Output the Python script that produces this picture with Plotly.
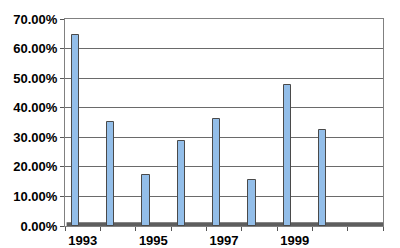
import plotly.graph_objects as go

years = [1993, 1994, 1995, 1996, 1997, 1998, 1999, 2000]
values = [0.646, 0.352, 0.174, 0.289, 0.362, 0.157, 0.477, 0.323]
tick_years = [1993, 1995, 1997, 1999]
tick_labels = ["1993", "1995", "1997", "1999"]
y_ticks = [0, 0.1, 0.2, 0.3, 0.4, 0.5, 0.6, 0.7]

fig = go.Figure()
fig.add_trace(go.Bar(
    x=years, y=values,
    width=0.21, offset=-0.31,
    marker=dict(color="#93bee9", line=dict(color="#4a4a4a", width=1)),
))

fig.add_shape(type="rect", xref="paper", yref="paper", x0=0.005, x1=1, y0=0, y1=0.018,
              fillcolor="#5e5e5e", line=dict(width=0), layer="below")

fig.update_layout(
    width=400, height=248,
    margin=dict(l=65, r=17, t=19, b=22),
    paper_bgcolor="white", plot_bgcolor="white",
    showlegend=False,
    font=dict(family="Liberation Sans, Arial, sans-serif", size=13, color="black"),
    bargap=0,
)
fig.update_xaxes(
    range=[1992.5, 2001.5], automargin=False,
    tickmode="array", tickvals=tick_years, ticktext=tick_labels,
    ticks="", showgrid=False, ticklabelstandoff=2,
    tickfont=dict(size=13, family="Liberation Sans, Arial, sans-serif", weight="bold"),
    showline=True, linecolor="#808080", linewidth=1, mirror=True,
    minor=dict(tickvals=[1992.5 + i for i in range(10)], ticks="outside", ticklen=4,
               tickcolor="#555555", showgrid=False),
)
fig.update_yaxes(
    range=[0, 0.7], automargin=False,
    tickmode="array", tickvals=y_ticks, tickformat=".2%",
    ticks="outside", ticklen=4, tickcolor="#555555",
    showgrid=True, gridcolor="#6a6a6a", gridwidth=1,
    tickfont=dict(size=13, family="Liberation Sans, Arial, sans-serif", weight="bold"),
    showline=True, linecolor="#808080", linewidth=1, mirror=True,
    zeroline=False,
)

fig.write_html("out.html")
